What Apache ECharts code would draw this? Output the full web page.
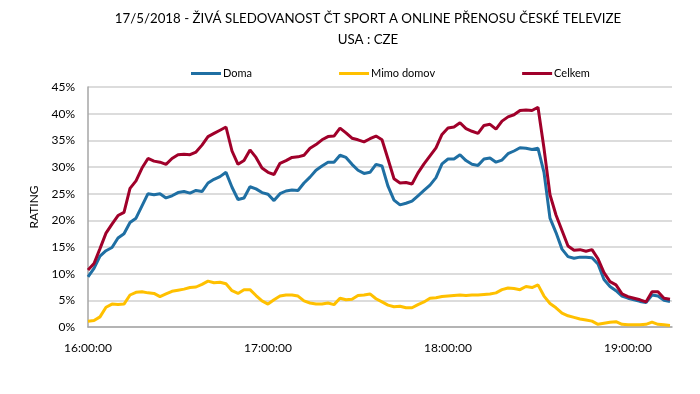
<!DOCTYPE html>
<html>
<head>
<meta charset="utf-8">
<script src="https://cdn.jsdelivr.net/npm/echarts@6/dist/echarts.min.js"></script>
<style>html,body{margin:0;padding:0;background:#fff;}#c{width:700px;height:394px;}</style>
</head>
<body>
<div id="c"></div>
<script>
// minutes after 16:00:00, every 2 minutes
var minutes = [];
for (var m = 0; m <= 194; m += 2) minutes.push(m);
var xTickLabels = ['16:00:00', '17:00:00', '18:00:00', '19:00:00'];
var seriesNames = ['Doma', 'Mimo domov', 'Celkem'];

var doma = [9.4,11,13.3,14.3,14.9,16.7,17.5,19.6,20.4,22.7,25,24.8,25,24.2,24.6,25.2,25.4,25.1,25.6,25.4,
27,27.7,28.2,29,26.2,23.9,24.2,26.3,25.9,25.2,24.9,23.7,25,25.5,25.7,25.6,27,28.1,29.4,30.2,
30.9,30.9,32.2,31.8,30.5,29.4,28.8,29,30.5,30.2,26.4,23.8,22.9,23.2,23.6,24.6,25.6,26.6,28,30.6,
31.5,31.5,32.3,31.2,30.5,30.3,31.5,31.7,30.9,31.3,32.5,33,33.6,33.5,33.3,33.5,29,20.4,17.7,14.6,
13.2,12.9,13.1,13.1,13,11.8,8.9,7.6,6.8,5.8,5.4,5.1,4.8,4.6,6,5.8,5,4.8];

var mimo = [1.1,1.2,1.9,3.7,4.3,4.2,4.3,6,6.5,6.6,6.4,6.3,5.7,6.2,6.7,6.9,7.1,7.4,7.5,8,
8.6,8.3,8.4,8.1,6.8,6.3,7,7,5.9,4.9,4.3,5.1,5.8,6,6,5.8,4.9,4.5,4.3,4.3,
4.5,4.2,5.4,5.1,5.2,5.9,6,6.2,5.3,4.7,4.1,3.8,3.9,3.6,3.6,4.2,4.7,5.4,5.5,5.7,
5.8,5.9,6,5.9,6,6,6.1,6.2,6.4,7,7.3,7.2,7,7.6,7.4,7.9,5.8,4.4,3.6,2.6,
2.1,1.8,1.5,1.3,1.1,0.5,0.7,0.9,1,0.5,0.4,0.4,0.4,0.5,0.9,0.5,0.4,0.3];

var celkem = [10.7,11.9,14.7,17.6,19.3,20.9,21.5,26,27.4,29.8,31.6,31.1,30.9,30.5,31.6,32.3,32.4,32.3,32.8,34.1,
35.7,36.3,36.9,37.5,33,30.5,31.2,33.2,31.8,29.8,29,28.6,30.7,31.2,31.8,31.9,32.2,33.5,34.2,35.1,
35.7,35.8,37.3,36.4,35.4,35.1,34.7,35.3,35.8,35.1,31.5,27.8,27,27.1,26.8,28.9,30.6,32.1,33.6,36.1,
37.3,37.5,38.3,37.2,36.7,36.3,37.8,38,37.1,38.6,39.4,39.8,40.6,40.7,40.6,41.2,33.5,24.8,21,18.1,
15.2,14.4,14.5,14.2,14.5,12.8,10.2,8.5,7.9,6.2,5.7,5.4,5.1,4.7,6.6,6.6,5.4,5.2];

function pairs(vals) { return minutes.map(function (m, i) { return [m, vals[i]]; }); }

var FONT = 'Lato';
var titleStyle = {fontFamily: FONT, fontSize: 13.3, fontWeight: 'normal', color: '#000'};
var chart = echarts.init(document.getElementById('c'), null, {renderer: 'canvas'});
chart.setOption({
  animation: false,
  backgroundColor: '#ffffff',
  textStyle: {fontFamily: FONT},
  title: [
    {text: '17/5/2018 - ŽIVÁ SLEDOVANOST ČT SPORT A ONLINE PŘENOSU ČESKÉ TELEVIZE',
     left: 363, top: 7, textAlign: 'center', textStyle: titleStyle},
    {text: 'USA : CZE', left: 363, top: 28, textAlign: 'center', textStyle: titleStyle}
  ],
  legend: {
    data: seriesNames,
    top: 63, left: 186,
    itemGap: 87, itemWidth: 30, itemHeight: 3, icon: 'rect',
    textStyle: {fontFamily: FONT, fontSize: 11, color: '#000', padding: [0, 0, 0, -3]}
  },
  grid: {left: 88, right: 28, top: 87, bottom: 67, containLabel: false},
  xAxis: {
    type: 'value', min: 0, max: 194.67, interval: 60,
    axisLine: {show: true, lineStyle: {color: '#a6a6a6', width: 1.5}},
    axisTick: {show: false},
    splitLine: {show: false},
    axisLabel: {
      showMaxLabel: false, margin: 15, color: '#000', fontSize: 12, fontFamily: FONT,
      formatter: function (v) { return xTickLabels[Math.round(v / 60)] || ''; }
    }
  },
  yAxis: {
    type: 'value', min: 0, max: 45, interval: 5,
    name: 'RATING', nameLocation: 'middle', nameGap: 44,
    nameTextStyle: {fontFamily: FONT, fontSize: 12, color: '#000'},
    axisLine: {show: true, lineStyle: {color: '#a6a6a6', width: 1.5}},
    axisTick: {show: false},
    splitLine: {show: true, lineStyle: {color: '#d0d0d0', width: 1.5}},
    axisLabel: {color: '#000', fontSize: 12, fontFamily: FONT, margin: 13, formatter: '{value}%'}
  },
  series: [
    {name: 'Doma', type: 'line', data: pairs(doma), showSymbol: false, symbol: 'none',
     lineStyle: {color: '#1f6fa3', width: 3}, itemStyle: {color: '#1f6fa3'}, z: 3},
    {name: 'Mimo domov', type: 'line', data: pairs(mimo), showSymbol: false, symbol: 'none',
     lineStyle: {color: '#ffc000', width: 3}, itemStyle: {color: '#ffc000'}, z: 2},
    {name: 'Celkem', type: 'line', data: pairs(celkem), showSymbol: false, symbol: 'none',
     lineStyle: {color: '#a0002a', width: 3}, itemStyle: {color: '#a0002a'}, z: 4}
  ]
});
</script>
</body>
</html>
